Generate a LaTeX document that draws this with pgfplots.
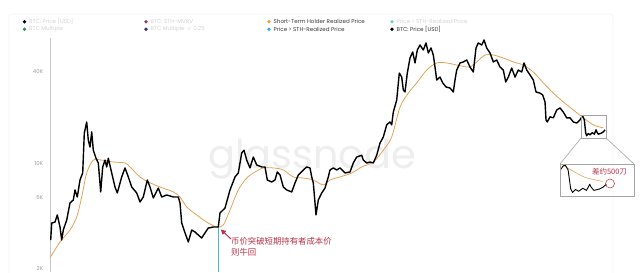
\documentclass[border=0pt]{standalone}
\usepackage{fontspec}
\setmainfont{Poppins}
\newfontfamily\cjk{Noto Sans CJK SC}
\usepackage{pgfplots}
\pgfplotsset{compat=1.18}
\usepackage{pgfplotstable}
\usetikzlibrary{arrows.meta}

\definecolor{sthorange}{HTML}{E0A458}
\definecolor{crossteal}{HTML}{3FBFCF}
\definecolor{annred}{HTML}{B8324A}
\definecolor{fadetext}{HTML}{D4D4D4}
\definecolor{ticktext}{HTML}{9A9A9A}
\definecolor{legdark}{HTML}{3A3A3A}
\definecolor{dotmauve}{HTML}{8A4A6A}
\definecolor{dotorange}{HTML}{F0A040}
\definecolor{dotmint}{HTML}{70D8B8}
\definecolor{dotgreen}{HTML}{3A9060}
\definecolor{dotindigo}{HTML}{3A2A90}
\definecolor{dotblue}{HTML}{40A8E0}

% BTC price [USD]
\pgfplotstableread{
x y
50.7 3190
51.7 4120
55 4180
57.3 4650
60 3880
61.7 3190
63.3 3710
66.7 4310
70 5570
73.3 5820
75 6770
77.3 6090
80 7860
82.7 8740
84.3 15900
86.7 18800
88.3 14300
90 12900
91.7 16200
93.3 12300
96 10900
98.3 10150
100.7 6570
102.7 9560
105 10600
106.7 9560
108.3 10900
111.7 8740
115 7080
117.3 6470
121.7 8230
125 9420
128.3 8230
131.7 7080
136.7 6470
140 5650
143.3 6090
147.3 7860
150 7080
153.3 6000
158.3 6970
161.7 6090
166.7 6280
173.3 6090
178.3 6090
180 5570
181.7 4120
184 3710
188.3 3100
191.7 3710
195 3600
198.3 3440
201.7 3290
205 3550
208.3 3820
213.3 3880
218.3 3880
220 4790
225 5160
230 6770
235 8230
238.3 8740
241.7 11800
244 12300
246.7 10600
250 9420
253.3 11100
256.7 9850
261.7 9560
265 9560
267.3 7860
271.7 7630
275 7860
277.3 8870
280 8480
283.3 7080
286.7 6770
291.7 6570
295 7520
298.3 8480
303.3 9140
306.7 9560
310 9420
311.7 8230
313.3 7520
315 5570
316 4650
318.3 5820
321.7 6470
325 6970
328.3 8230
330 9140
333.3 9420
336.7 9140
340 9420
345 8740
350 8870
353.3 10150
356.7 11100
361.7 11400
363.3 10600
366.7 10150
370 10300
373.3 10150
376.7 11400
380 13700
383.3 15000
386.7 18000
390 18800
391.7 18000
393.3 21800
396.7 26100
399.3 39200
401.7 36900
403.3 30400
405 29500
407.3 39200
410 49100
412.7 53800
415 45600
417.3 55400
420 59700
423.3 55400
426 61600
428.3 53000
431 57100
433.3 51400
435 42900
436.7 35300
440 36900
442.7 33800
446 31800
450 31300
453.3 29500
455 35300
456.7 41000
460 45600
463.3 46300
466.7 47700
470 42900
473.3 39800
476 57100
478.3 61600
481.7 59700
484 64400
486.7 57100
490 53000
493.3 46300
496.7 47700
500 42900
503.3 41000
505.7 34300
508.3 36900
511.7 42300
515 36900
518.3 41000
521.7 39800
524 45600
526.7 41000
530 38100
533.3 35300
536 29500
540 29000
542.7 28200
545 25400
546 19400
547.3 18800
550 20300
553.3 20000
556.7 22500
560 23200
563.3 21800
566.7 20000
570 20000
573.3 18800
576.7 18500
580 19400
581.5 20200
582.7 20500
584.3 19400
585.7 15900
586.7 15300
588.3 15800
590 15500
592.3 16000
594.3 15650
596 16700
596.8 16200
598.3 15650
601 15850
603.3 16200
605 16700
}\btcprice

% Short-term holder realized price
\pgfplotstableread{
x y
50 2440
60 3100
70 3710
76.7 4510
81.7 6090
86.7 8740
93.3 10600
101.7 10600
113.3 10300
125 10150
130 9560
140 8230
148.3 7630
160 7080
173.3 6570
180 6090
186.7 5240
196.7 4650
206.7 4180
216.7 3880
223.3 4000
230 5010
238.3 6770
246.7 8100
255 8870
263.3 9420
273.3 9420
283.3 9140
293.3 8230
303.3 8100
313.3 7860
323.3 7300
330 7860
340 8230
351.7 8740
361.7 9560
373.3 10300
383.3 12300
391.7 15000
400 23500
408.3 29000
416.7 33800
426.7 41000
436.7 45600
446.7 45600
456.7 44200
466.7 42900
470 42900
476.7 46300
485 51400
493.3 51400
503.3 49100
513.3 46300
523.3 44200
533.3 39800
543.3 33800
553.3 29000
563.3 25400
573.3 22500
583.3 20000
593.3 18000
603.3 17200
}\sthprice

\begin{document}
\begin{tikzpicture}[x=1bp, y=1bp]
\useasboundingbox (0,0) rectangle (640,272);
\fill[white] (0,0) rectangle (640,272);

% everything outside the axes is placed in a top-down frame: (x, y from the top)
\begin{scope}[shift={(0,272)}, yscale=-1]
% panel frame
\draw[gray!9, line width=0.6bp, rounded corners=3bp] (9,14) rectangle (613,300);
% legend
\begin{scope}[every node/.style={anchor=west, inner sep=0pt, font=\fontsize{5.6}{6}\selectfont}]
  \fill[black] (24.5,21.7) circle (1.9);
  \node[text=fadetext] at (29,21.9) {BTC: Price [USD]};
  \fill[dotgreen] (24.5,29.3) circle (1.9);
  \node[text=fadetext] at (29,29.5) {BTC Multiple};
  \fill[dotmauve] (146,21.7) circle (1.9);
  \node[text=fadetext] at (150.5,21.9) {BTC: STH-MVRV};
  \fill[dotindigo] (146,29.3) circle (1.9);
  \node[text=fadetext] at (150.5,29.5) {BTC Multiple $\times$ 0.25};
  \fill[dotorange] (269,21.7) circle (1.9);
  \node[text=legdark] at (273.5,21.9) {Short-Term Holder Realized Price};
  \fill[dotblue] (269,29.3) circle (1.9);
  \node[text=legdark] at (273.5,29.5) {Price > STH-Realized Price};
  \fill[dotmint] (392,21.7) circle (1.9);
  \node[text=fadetext] at (396.5,21.9) {Price > STH-Realized Price};
  \fill[black] (392,29.3) circle (1.9);
  \node[text=legdark] at (396.5,29.5) {BTC: Price [USD]};
\end{scope}
% watermark
\node[anchor=base west, inner sep=0pt, text=gray!13, font=\fontsize{40}{40}\selectfont] at (208,168) {glassnode};
\end{scope}

% main chart
\begin{axis}[
  at={(50bp,0bp)}, anchor=south west,
  scale only axis, width=575bp, height=234bp,
  xmin=50, xmax=625,
  ymode=log, ymin=1974, ymax=66360,
  axis x line=none,
  axis y line*=left,
  axis line style={draw=gray!45, line width=0.6bp, -},
  ytick={6000,10000,40000},
  yticklabels={6K,10K,40K},
  extra y ticks={2000},
  extra y tick labels={2K},
  extra y tick style={yticklabel style={yshift=2.6bp}},
  major tick length=0pt,
  yticklabel style={font=\fontsize{5.4}{6}\selectfont, text=ticktext, xshift=-3.5bp},
  clip=false,
]
\addplot[crossteal, line width=1.2bp] coordinates {(218.3,3880) (218.3,1974)};
\addplot[sthorange, line width=0.8bp, smooth] table {\sthprice};
\addplot[black, line width=1.4bp, line join=round] table {\btcprice};
\end{axis}

% enlarged view of the last weeks
\begin{axis}[
  at={(560bp,76bp)}, anchor=south west,
  scale only axis, width=74bp, height=32bp,
  xmin=579.9, xmax=620.1,
  ymode=log, ymin=14750, ymax=20690,
  hide axis,
  clip=true,
]
\addplot[sthorange, line width=0.6bp, smooth] table {\sthprice};
\addplot[black, line width=0.9bp, line join=round] table {\btcprice};
\end{axis}

\begin{scope}[shift={(0,272)}, yscale=-1]
\draw[gray!70, line width=0.6bp] (581,115) rectangle (606,138);
\draw[gray!70, line width=0.6bp] (581,138) -- (560,164);
\draw[gray!70, line width=0.6bp] (606,138) -- (634,164);
\draw[gray!70, line width=0.6bp] (560,164) rectangle (634,196);
\node[text=annred, inner sep=0pt, font=\cjk\fontsize{7.5}{8}\selectfont] at (609.5,172) {差约500刀};
\draw[annred, line width=0.5bp] (610,183.5) circle (4.5);
% annotation of the crossing
\draw[annred, line width=1bp, -{Triangle[length=5bp,width=5bp]}] (231,239) -- (220.8,229.5);
\node[anchor=west, inner sep=0pt, text=annred, font=\cjk\fontsize{8.4}{10}\selectfont] at (231,241.5) {币价突破短期持有者成本价};
\node[anchor=west, inner sep=0pt, text=annred, font=\cjk\fontsize{8.4}{10}\selectfont] at (231,252.5) {则牛回};
\end{scope}
\end{tikzpicture}
\end{document}
